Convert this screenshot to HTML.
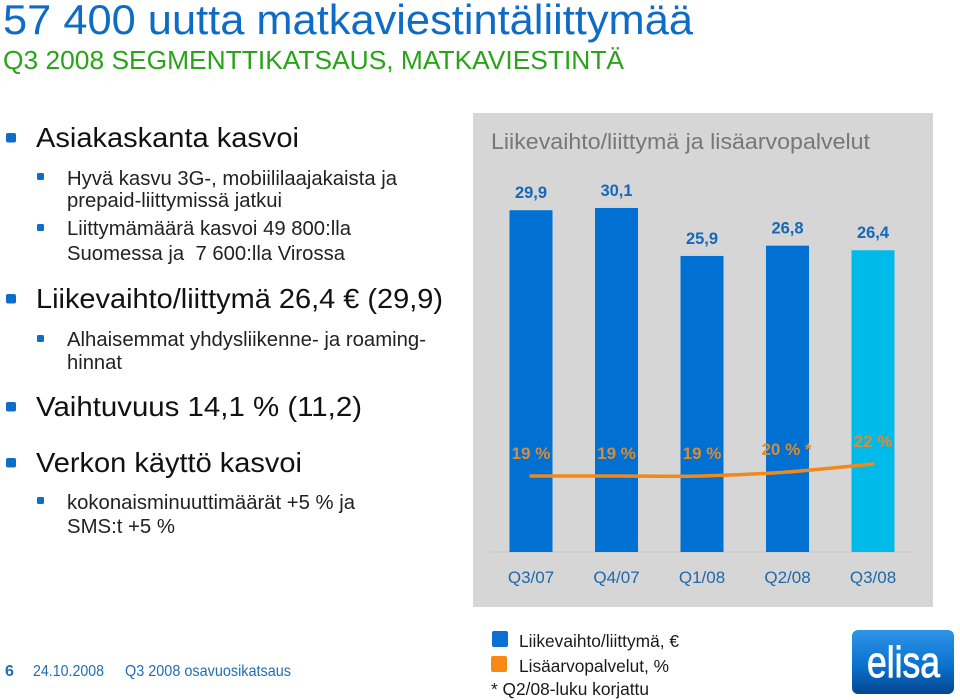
<!DOCTYPE html>
<html lang="fi">
<head>
<meta charset="utf-8">
<title>57 400 uutta matkaviestintäliittymää</title>
<style>
html,body{margin:0;padding:0;background:#fff;width:960px;height:700px;overflow:hidden}
svg{display:block}
text{font-family:"Liberation Sans",Arial,sans-serif;white-space:pre}
.l1{font-size:28px;fill:#111}
.l2{font-size:20.5px;fill:#222}
.foot{font-size:16px;fill:#1f6db5}
.leg{font-size:17.5px;fill:#1a1a1a}
</style>
</head>
<body>
<svg id="slide" xmlns="http://www.w3.org/2000/svg" width="960" height="700" viewBox="0 0 960 700">
  <defs>
    <linearGradient id="logoGrad" x1="0" y1="0" x2="0" y2="1">
      <stop offset="0" stop-color="#2f95e6"/>
      <stop offset="0.55" stop-color="#0a72d0"/>
      <stop offset="1" stop-color="#04468f"/>
    </linearGradient>
  </defs>

  <text x="3" y="34" font-size="42" fill="#0f6cc4" textLength="690" lengthAdjust="spacingAndGlyphs">57 400 uutta matkaviestintäliittymää</text>
  <text x="3" y="69" font-size="26" fill="#2aa31a" textLength="621" lengthAdjust="spacingAndGlyphs">Q3 2008 SEGMENTTIKATSAUS, MATKAVIESTINTÄ</text>

  <rect x="6" y="133" width="10" height="9.5" rx="2" fill="#0f6cc8"/>
  <text class="l1" x="36" y="147" textLength="263" lengthAdjust="spacingAndGlyphs">Asiakaskanta kasvoi</text>
  <rect x="37" y="173" width="7" height="7" rx="1.5" fill="#0f6cc8"/>
  <text class="l2" x="67" y="185" textLength="330" lengthAdjust="spacingAndGlyphs">Hyvä kasvu 3G-, mobiililaajakaista ja</text>
  <text class="l2" x="67" y="207" textLength="215" lengthAdjust="spacingAndGlyphs">prepaid-liittymissä jatkui</text>
  <rect x="37" y="224" width="7" height="7" rx="1.5" fill="#0f6cc8"/>
  <text class="l2" x="67" y="235" textLength="284" lengthAdjust="spacingAndGlyphs">Liittymämäärä kasvoi 49 800:lla</text>
  <text class="l2" x="67" y="260" textLength="278" lengthAdjust="spacingAndGlyphs">Suomessa ja  7 600:lla Virossa</text>

  <rect x="6" y="294" width="10" height="9.5" rx="2" fill="#0f6cc8"/>
  <text class="l1" x="36" y="308" textLength="407" lengthAdjust="spacingAndGlyphs">Liikevaihto/liittymä 26,4 € (29,9)</text>
  <rect x="37" y="335" width="7" height="7" rx="1.5" fill="#0f6cc8"/>
  <text class="l2" x="67" y="346" textLength="359" lengthAdjust="spacingAndGlyphs">Alhaisemmat yhdysliikenne- ja roaming-</text>
  <text class="l2" x="67" y="369" textLength="55" lengthAdjust="spacingAndGlyphs">hinnat</text>

  <rect x="6" y="402" width="10" height="9.5" rx="2" fill="#0f6cc8"/>
  <text class="l1" x="36" y="416" textLength="326" lengthAdjust="spacingAndGlyphs">Vaihtuvuus 14,1 % (11,2)</text>

  <rect x="6" y="458" width="10" height="9.5" rx="2" fill="#0f6cc8"/>
  <text class="l1" x="36" y="472" textLength="266" lengthAdjust="spacingAndGlyphs">Verkon käyttö kasvoi</text>
  <rect x="37" y="497" width="7" height="7" rx="1.5" fill="#0f6cc8"/>
  <text class="l2" x="67" y="509" textLength="288" lengthAdjust="spacingAndGlyphs">kokonaisminuuttimäärät +5 % ja</text>
  <text class="l2" x="67" y="533" textLength="108" lengthAdjust="spacingAndGlyphs">SMS:t +5 %</text>

  <rect x="473" y="113" width="460" height="494" fill="#d6d6d6"/>
  <text x="491" y="149" font-size="22.5" fill="#777" textLength="379" lengthAdjust="spacingAndGlyphs">Liikevaihto/liittymä ja lisäarvopalvelut</text>
  <line x1="489" y1="552" x2="916" y2="552" stroke="#c6c6c6" stroke-width="1"/>
  <g id="chart"></g>

  <text class="foot" x="5" y="676" font-weight="700" fill="#1460a8">6</text>
  <text class="foot" x="33" y="676" textLength="71" lengthAdjust="spacingAndGlyphs">24.10.2008</text>
  <text class="foot" x="125" y="676" textLength="166" lengthAdjust="spacingAndGlyphs">Q3 2008 osavuosikatsaus</text>

  <rect x="492" y="631" width="16" height="16" rx="2" fill="#0b6fd3"/>
  <text class="leg" x="519" y="647" textLength="160" lengthAdjust="spacingAndGlyphs">Liikevaihto/liittymä, €</text>
  <rect x="491" y="656" width="16" height="16" rx="2" fill="#f68a14"/>
  <text class="leg" x="519" y="672" textLength="150" lengthAdjust="spacingAndGlyphs">Lisäarvopalvelut, %</text>
  <text class="leg" x="491" y="695" textLength="158" lengthAdjust="spacingAndGlyphs">* Q2/08-luku korjattu</text>

  <g>
    <rect x="852" y="630" width="102" height="64" rx="6" fill="url(#logoGrad)"/>
    <text x="903.5" y="677" text-anchor="middle" font-size="44" fill="#fff" stroke="#fff" stroke-width="0.9" textLength="73" lengthAdjust="spacingAndGlyphs">elisa</text>
  </g>
</svg>

<script>
var categories = ["Q3/07", "Q4/07", "Q1/08", "Q2/08", "Q3/08"];
var revenueValues = [29.9, 30.1, 25.9, 26.8, 26.4];
var revenueLabels = ["29,9", "30,1", "25,9", "26,8", "26,4"];
var vasValues = [19, 19, 19, 20, 22];
var vasLabels = ["19 %", "19 %", "19 %", "20 % *", "22 %"];

var NS = "http://www.w3.org/2000/svg";
var chart = document.getElementById("chart");

function xCenter(i) { return 531 + i * 85.5; }
function barY(v) { return 552 - v * 11.43; }
function lineY(v) { return 552 - v * 4; }

function make(tag, attrs, parent) {
  var el = document.createElementNS(NS, tag);
  for (var k in attrs) { el.setAttribute(k, attrs[k]); }
  parent.appendChild(el);
  return el;
}

categories.forEach(function (cat, i) {
  var top = barY(revenueValues[i]);
  var bar = make("rect", {
    x: xCenter(i) - 21.5, y: top, width: 43, height: 552 - top,
    fill: i === categories.length - 1 ? "#00bbe9" : "#0070d2"
  }, chart);
  
  

  var val = make("text", {
    x: xCenter(i), y: top - 12, "text-anchor": "middle",
    "font-size": "16.5", "font-weight": "700", fill: "#1668b8"
  }, chart);
  val.textContent = revenueLabels[i];
  
  

  var tick = make("text", {
    x: xCenter(i), y: 583, "text-anchor": "middle",
    "font-size": "17", fill: "#1f68ad"
  }, chart);
  tick.textContent = cat;
  
  
});

var pts = vasValues.map(function (v, i) { return [xCenter(i), lineY(v)]; });
var d = "M" + pts[0][0] + " " + pts[0][1];
for (var i = 0; i < pts.length - 1; i++) {
  var p0 = pts[Math.max(i - 1, 0)], p1 = pts[i], p2 = pts[i + 1], p3 = pts[Math.min(i + 2, pts.length - 1)];
  var c1x = p1[0] + (p2[0] - p0[0]) / 6, c1y = p1[1] + Math.min(0, p2[1] - p0[1]) / 6;
  var c2x = p2[0] - (p3[0] - p1[0]) / 6, c2y = p2[1] - (p3[1] - p1[1]) / 6;
  d += " C" + c1x + " " + c1y + " " + c2x + " " + c2y + " " + p2[0] + " " + p2[1];
}
var line = make("path", {
  d: d, fill: "none", stroke: "#f0881a", "stroke-width": "3.5", "stroke-linecap": "round"
}, chart);



vasValues.forEach(function (v, i) {
  var label = make("text", {
    x: xCenter(i) - (i === 3 ? 1 : 0), y: lineY(v) - 17, "text-anchor": "middle",
    "font-size": "17", "font-weight": "700", fill: "#dc8c30"
  }, chart);
  label.textContent = vasLabels[i];
  
  
});
</script>
</body>
</html>
